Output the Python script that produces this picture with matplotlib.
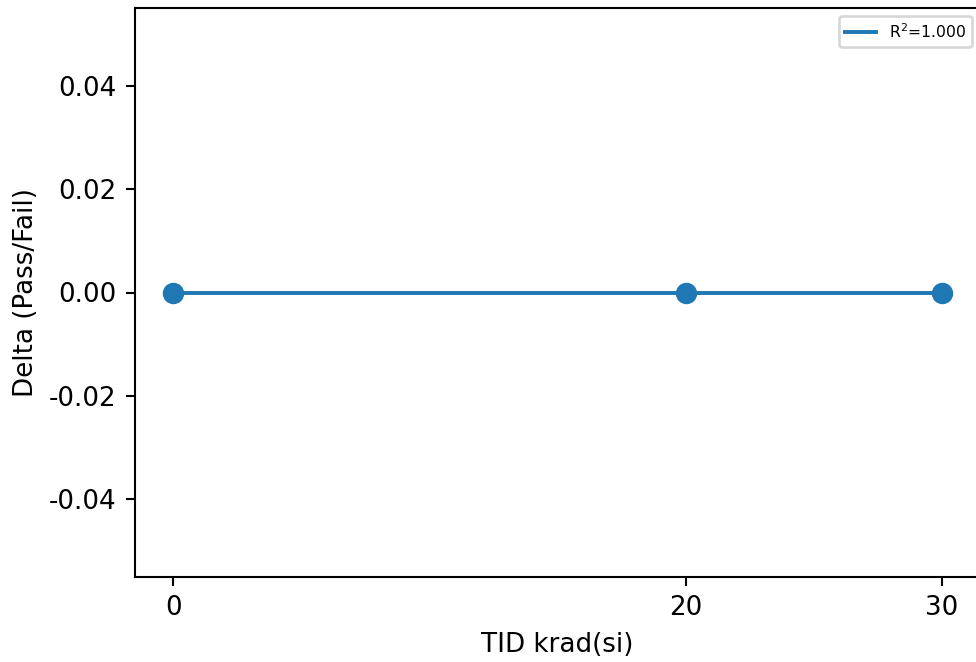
import numpy as np
import matplotlib
matplotlib.use('Agg')
import matplotlib.pyplot as plt

# data
tid = [0, 20, 30]
delta = [0.0, 0.0, 0.0]
xticks = [0, 20, 30]

plt.rcParams['axes.unicode_minus'] = False

# linear fit through the points
coef = np.polyfit(tid, delta, 1)
fit = np.polyval(coef, tid)
r2 = 1.0

dpi = 188
fig = plt.figure(figsize=(976 / dpi, 662 / dpi), dpi=dpi)
ax = fig.add_axes([135 / 976, 1 - 577 / 662, 845 / 976, 569 / 662])

ax.scatter(tid, delta, s=52, color='#1f77b4', zorder=3)
ax.plot(tid, fit, color='#1f77b4', lw=1.5, label=f"R$^2$={r2:.3f}")
ax.set_xticks(xticks)
ax.set_xlabel("TID krad(si)")
ax.set_ylabel("Delta (Pass/Fail)")
ax.legend(loc='upper right', fontsize=6)

fig.savefig("out.png", dpi=dpi)
